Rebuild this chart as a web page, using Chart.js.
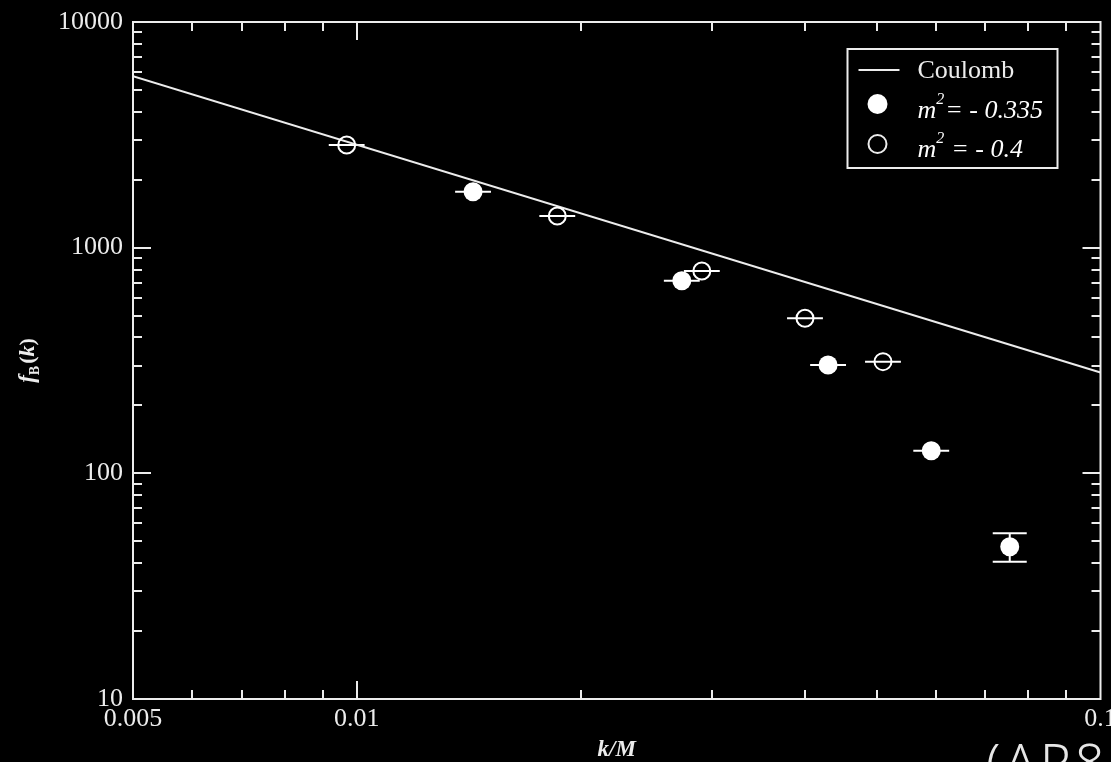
<!DOCTYPE html>
<html><head><meta charset="utf-8">
<script src="https://cdn.jsdelivr.net/npm/chart.js@4/dist/chart.umd.min.js"></script>
<style>
html,body{margin:0;padding:0;background:#000;overflow:hidden;}
#wrap{position:relative;width:1111px;height:762px;}
#note{position:absolute;left:986px;top:735px;font:300 52px 'Noto Sans',sans-serif;color:#e6e6e6;letter-spacing:4px;white-space:nowrap;line-height:1;}
</style></head><body>
<div id="wrap"><canvas id="c"></canvas><div id="note">(AP8</div></div>
<script>
// ---- data ----
const coulombK = [0.005, 0.1];
const coulombF = [5750, 280];

const k335     = [0.01433, 0.02735, 0.04302, 0.05921, 0.0755];
const f335     = [1770, 714, 302, 126, 47.3];
const k335Low  = [0.013556, 0.025873, 0.040696, 0.056012, 0.0755];
const k335High = [0.015148, 0.028912, 0.045476, 0.062591, 0.0755];
const f335Low  = [1770, 714, 302, 126, 40.6];
const f335High = [1770, 714, 302, 126, 54.3];

const k04     = [0.00969, 0.01860, 0.02910, 0.04005, 0.05099];
const f04     = [2850, 1382, 788, 487, 312.6];
const k04Low  = [0.009167, 0.017595, 0.027528, 0.037887, 0.048236];
const k04High = [0.010243, 0.019662, 0.030762, 0.042337, 0.053902];

const xTickValues = [0.005, 0.01, 0.1];
const xTickLabels = ['0.005', '0.01', '0.1'];
const yTickValues = [10, 100, 1000, 10000];
const yTickLabels = ['10', '100', '1000', '10000'];
const xMinorTicks = [0.006, 0.007, 0.008, 0.009, 0.02, 0.03, 0.04, 0.05, 0.06, 0.07, 0.08, 0.09];
const yMinorTicks = [20, 30, 40, 50, 60, 70, 80, 90, 200, 300, 400, 500, 600, 700, 800, 900,
                     2000, 3000, 4000, 5000, 6000, 7000, 8000, 9000];
const seriesNames = ['Coulomb', 'm² = - 0.335', 'm² = - 0.4'];
const xTitle = 'k/M';

// ---- styles ----
const FG = '#ececec';
const SERIF = '"Liberation Serif", "Times New Roman", serif';

function pts(xs, ys) { return xs.map((x, i) => ({ x: x, y: ys[i] })); }

const errorBars = {
  id: 'errorBars',
  beforeDatasetsDraw(chart) {
    const { ctx, chartArea: a, scales: { x, y } } = chart;
    ctx.save();
    ctx.beginPath(); ctx.rect(a.left, a.top, a.right - a.left, a.bottom - a.top); ctx.clip();
    ctx.strokeStyle = '#fff'; ctx.lineWidth = 2;
    const draw = (ks, fs, kl, kh, fl, fh) => {
      ks.forEach((k, i) => {
        const px = x.getPixelForValue(k), py = y.getPixelForValue(fs[i]);
        const xl = x.getPixelForValue(kl[i]), xh = x.getPixelForValue(kh[i]);
        if (xh - xl > 1) { ctx.beginPath(); ctx.moveTo(xl, py); ctx.lineTo(xh, py); ctx.stroke(); }
        if (fl && fh) {
          const yl = y.getPixelForValue(fl[i]), yh = y.getPixelForValue(fh[i]);
          if (Math.abs(yl - yh) > 1) {
            ctx.beginPath();
            ctx.moveTo(px, yl); ctx.lineTo(px, yh);
            ctx.moveTo(px - 17, yl); ctx.lineTo(px + 17, yl);
            ctx.moveTo(px - 17, yh); ctx.lineTo(px + 17, yh);
            ctx.stroke();
          }
        }
      });
    };
    draw(k335, f335, k335Low, k335High, f335Low, f335High);
    draw(k04, f04, k04Low, k04High, null, null);
    ctx.restore();
  }
};

const frameAndDecor = {
  id: 'frameAndDecor',
  afterDraw(chart) {
    const { ctx, chartArea: a, scales: { x, y } } = chart;
    ctx.save();
    ctx.strokeStyle = FG; ctx.lineWidth = 2;
    ctx.strokeRect(a.left, a.top, a.right - a.left, a.bottom - a.top);
    const tick = (len, xs, ys) => {
      ctx.beginPath();
      xs.forEach(v => {
        const p = Math.round(x.getPixelForValue(v));
        ctx.moveTo(p, a.bottom); ctx.lineTo(p, a.bottom - len);
        ctx.moveTo(p, a.top); ctx.lineTo(p, a.top + len);
      });
      ys.forEach(v => {
        const p = Math.round(y.getPixelForValue(v));
        ctx.moveTo(a.left, p); ctx.lineTo(a.left + len, p);
        ctx.moveTo(a.right, p); ctx.lineTo(a.right - len, p);
      });
      ctx.stroke();
    };
    tick(18, xTickValues.filter(v => v > x.min && v < x.max), yTickValues.filter(v => v > y.min && v < y.max));
    tick(9, xMinorTicks, yMinorTicks);

    // x title
    ctx.fillStyle = FG;
    ctx.font = 'italic bold 23px ' + SERIF;
    ctx.textAlign = 'center'; ctx.textBaseline = 'middle';
    ctx.fillText(xTitle, (a.left + a.right) / 2, 750);

    // y title f_B(k)
    ctx.save();
    ctx.translate(27, (a.top + a.bottom) / 2);
    ctx.rotate(-Math.PI / 2);
    ctx.textAlign = 'left'; ctx.textBaseline = 'alphabetic';
    const parts = [
      { t: 'f', f: 'italic bold 23px ' + SERIF, dy: 0 },
      { t: 'B', f: 'bold 14px ' + SERIF, dy: 5 },
      { t: '(', f: 'bold 22px ' + SERIF, dy: 0 },
      { t: 'k', f: 'italic bold 22px ' + SERIF, dy: 0 },
      { t: ')', f: 'bold 22px ' + SERIF, dy: 0 }
    ];
    let w = 0;
    parts.forEach(p => { ctx.font = p.f; p.w = ctx.measureText(p.t).width; w += p.w + (p.t === 'B' ? 2 : 0); });
    let cx = -w / 2;
    parts.forEach(p => { ctx.font = p.f; ctx.fillText(p.t, cx, 7 + p.dy); cx += p.w + (p.t === 'B' ? 2 : 0); });
    ctx.restore();

    // legend
    const L = a.right - 253, T = a.top + 27;
    ctx.strokeRect(L, T, 210, 119);
    ctx.beginPath(); ctx.moveTo(L + 11, T + 21); ctx.lineTo(L + 52, T + 21); ctx.stroke();
    ctx.textAlign = 'left'; ctx.textBaseline = 'alphabetic';
    ctx.font = '26px ' + SERIF;
    ctx.fillText(seriesNames[0], L + 70, T + 29);
    ctx.fillStyle = '#fff';
    ctx.beginPath(); ctx.arc(L + 30, T + 55, 10, 0, Math.PI * 2); ctx.fill();
    ctx.lineWidth = 2;
    ctx.beginPath(); ctx.arc(L + 30, T + 95, 9, 0, Math.PI * 2); ctx.stroke();
    const mEntry = (label, yb, gap) => {
      const rest = label.split('²')[1];
      ctx.font = 'italic 26px ' + SERIF;
      ctx.fillText('m', L + 70, yb);
      let xx = L + 70 + ctx.measureText('m').width;
      ctx.font = 'italic 16px ' + SERIF;
      ctx.fillText('2', xx, yb - 14);
      xx += ctx.measureText('2').width + gap;
      ctx.font = 'italic 26px ' + SERIF;
      ctx.fillText(rest.trim(), xx, yb);
    };
    mEntry(seriesNames[1], T + 69, 1);
    mEntry(seriesNames[2], T + 108, 7);
    ctx.restore();
  }
};

new Chart(document.getElementById('c'), {
  type: 'scatter',
  data: {
    datasets: [
      { label: seriesNames[0], data: pts(coulombK, coulombF), showLine: true, pointRadius: 0,
        borderColor: FG, borderWidth: 2, order: 3 },
      { label: seriesNames[1], data: pts(k335, f335), pointRadius: 9.5, pointBackgroundColor: '#fff',
        pointBorderColor: '#fff', pointBorderWidth: 0, order: 2 },
      { label: seriesNames[2], data: pts(k04, f04), pointRadius: 8.5, pointBackgroundColor: 'rgba(0,0,0,0)',
        pointBorderColor: '#fff', pointBorderWidth: 2, order: 1 }
    ]
  },
  options: {
    responsive: true, maintainAspectRatio: false, animation: false, events: [],
    layout: { padding: { left: 0, top: 22, right: 8, bottom: 0 } },
    plugins: { legend: { display: false }, tooltip: { enabled: false } },
    scales: {
      x: {
        type: 'logarithmic', position: 'bottom', min: 0.005, max: 0.1,
        grid: { display: false, drawTicks: false }, border: { display: false },
        afterBuildTicks: s => { s.ticks = xTickValues.map(v => ({ value: v })); },
        afterFit: s => { s.height = 63; s.paddingLeft = 0; s.paddingRight = 0; },
        ticks: { autoSkip: false, maxRotation: 0, minRotation: 0, padding: 5, color: FG,
                 font: { family: SERIF, size: 26 }, callback: (v, i) => xTickLabels[i] }
      },
      y: {
        type: 'logarithmic', position: 'left', min: 10, max: 10000,
        grid: { display: false, drawTicks: false }, border: { display: false },
        afterBuildTicks: s => { s.ticks = yTickValues.map(v => ({ value: v })); },
        afterFit: s => { s.width = 133; s.paddingTop = 0; s.paddingBottom = 0; },
        ticks: { autoSkip: false, padding: 10, color: FG,
                 font: { family: SERIF, size: 26 }, callback: (v, i) => yTickLabels[i] }
      }
    }
  },
  plugins: [errorBars, frameAndDecor]
});
</script>
</body></html>
